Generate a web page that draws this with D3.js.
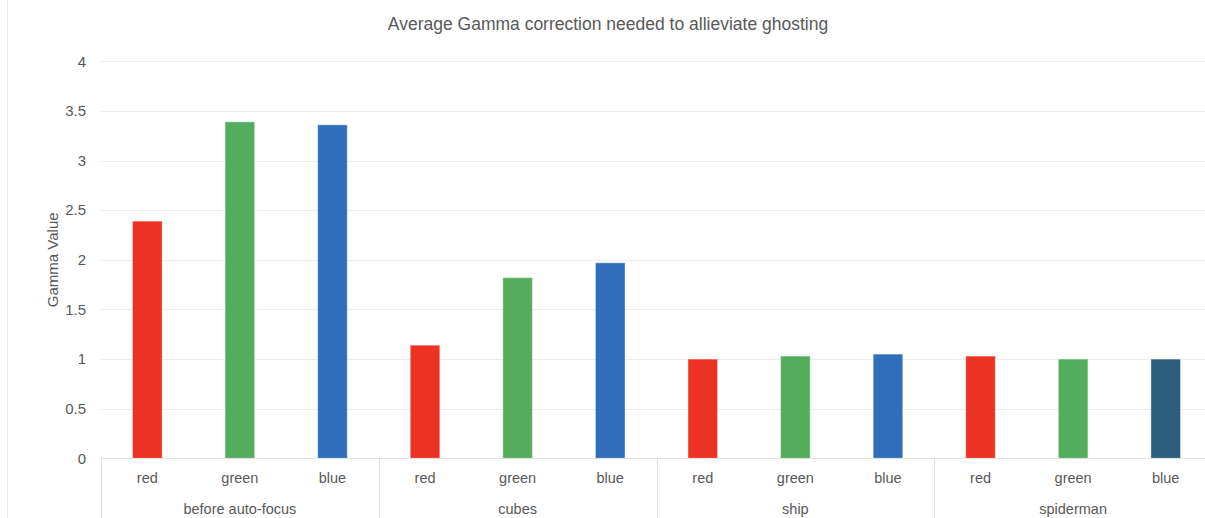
<!DOCTYPE html>
<html>
<head>
<meta charset="utf-8">
<script src="https://cdn.jsdelivr.net/npm/d3@7"></script>
<style>
  html, body { margin: 0; padding: 0; background: #fff; }
  svg { display: block; }
  text { font-family: "Liberation Sans", Arial, sans-serif; fill: #595959; }
</style>
</head>
<body>
<svg id="chart" width="1205" height="518"></svg>
<script>
// Scenes on the outer category axis, colour channels on the inner one
const groups = ["before auto-focus", "cubes", "ship", "spiderman"];
const channels = ["red", "green", "blue"];

// Average gamma per scene, one entry per channel
const beforeAutoFocus = [2.39, 3.39, 3.36];
const cubes = [1.14, 1.82, 1.97];
const ship = [1.00, 1.03, 1.05];
const spiderman = [1.03, 1.00, 1.00];

const yTicks = [0, 0.5, 1, 1.5, 2, 2.5, 3, 3.5, 4];

const title = "Average Gamma correction needed to allieviate ghosting";
const yTitle = "Gamma Value";

// Fill colours: one row per scene
const palette = [
  ["#EC3323", "#53AD5D", "#2E6EBB"],
  ["#EC3323", "#53AD5D", "#2E6EBB"],
  ["#EC3323", "#53AD5D", "#2E6EBB"],
  ["#EC3323", "#53AD5D", "#2E5E7F"]
];

const values = [beforeAutoFocus, cubes, ship, spiderman];
const rows = [];
groups.forEach((g, gi) => channels.forEach((c, ci) =>
  rows.push({ group: g, channel: c, value: values[gi][ci], gi, ci })));

const svg = d3.select("#chart");
const plot = { left: 101, right: 1212, top: 61.3, bottom: 458.3 };

const x0 = d3.scaleBand().domain(groups).range([plot.left, plot.right]).padding(0);
const x1 = d3.scaleBand().domain(channels).range([0, x0.bandwidth()])
  .paddingInner(0.68).paddingOuter(0.34);
const y = d3.scaleLinear().domain([0, 4]).range([plot.bottom, plot.top]);

// Chart area border (left edge)
svg.append("line")
  .attr("x1", 7.5).attr("x2", 7.5).attr("y1", 0).attr("y2", 518)
  .attr("stroke", "#E6E6E6").attr("stroke-width", 1);

// Horizontal gridlines
svg.append("g").selectAll("line").data(yTicks.filter(t => t > 0)).join("line")
  .attr("x1", plot.left).attr("x2", plot.right)
  .attr("y1", d => Math.round(y(d)) + 0.5).attr("y2", d => Math.round(y(d)) + 0.5)
  .attr("stroke", "#ECECEC").attr("stroke-width", 1);

// Y axis labels
const yAxis = d3.axisLeft(y).tickValues(yTicks).tickSize(0).tickPadding(0)
  .tickFormat(d3.format("~g"));
const yg = svg.append("g").attr("transform", `translate(${plot.left - 15},0)`).call(yAxis);
yg.select(".domain").remove();
yg.selectAll("text").attr("font-size", 15).attr("fill", "#595959")
  .style("font-family", '"Liberation Sans", Arial, sans-serif');

// Bars
svg.append("g").selectAll("rect").data(rows).join("rect")
  .attr("x", d => x0(d.group) + x1(d.channel))
  .attr("width", x1.bandwidth())
  .attr("y", d => y(d.value))
  .attr("height", d => y(0) - y(d.value))
  .attr("fill", d => palette[d.gi][d.ci])
  .attr("stroke", "rgba(255,255,255,0.45)").attr("stroke-width", 1);

// Category axis line and group separators
const axisG = svg.append("g");
axisG.append("line")
  .attr("x1", plot.left).attr("x2", plot.right)
  .attr("y1", Math.round(y(0)) + 0.5).attr("y2", Math.round(y(0)) + 0.5)
  .attr("stroke", "#E0E0E0");
const bounds = groups.map(g => x0(g)).concat([x0.range()[1]]);
axisG.selectAll("line.sep").data(bounds).join("line").attr("class", "sep")
  .attr("x1", d => Math.round(d) + 0.5).attr("x2", d => Math.round(d) + 0.5)
  .attr("y1", Math.round(y(0))).attr("y2", 518)
  .attr("stroke", "#E0E0E0");

// Inner labels (channels)
axisG.selectAll("text.ch").data(rows).join("text").attr("class", "ch")
  .attr("x", d => x0(d.group) + x1(d.channel) + x1.bandwidth() / 2)
  .attr("y", 483)
  .attr("text-anchor", "middle").attr("font-size", 14.5)
  .text(d => d.channel);

// Outer labels (scenes)
axisG.selectAll("text.grp").data(groups).join("text").attr("class", "grp")
  .attr("x", d => x0(d) + x0.bandwidth() / 2)
  .attr("y", 514)
  .attr("text-anchor", "middle").attr("font-size", 14.5)
  .text(d => d);

// Title
svg.append("text")
  .attr("x", 608).attr("y", 30)
  .attr("text-anchor", "middle").attr("font-size", 17.5)
  .text(title);

// Y axis title
svg.append("text")
  .attr("transform", `translate(58,${(plot.top + plot.bottom) / 2}) rotate(-90)`)
  .attr("text-anchor", "middle").attr("font-size", 15)
  .text(yTitle);
</script>
</body>
</html>
